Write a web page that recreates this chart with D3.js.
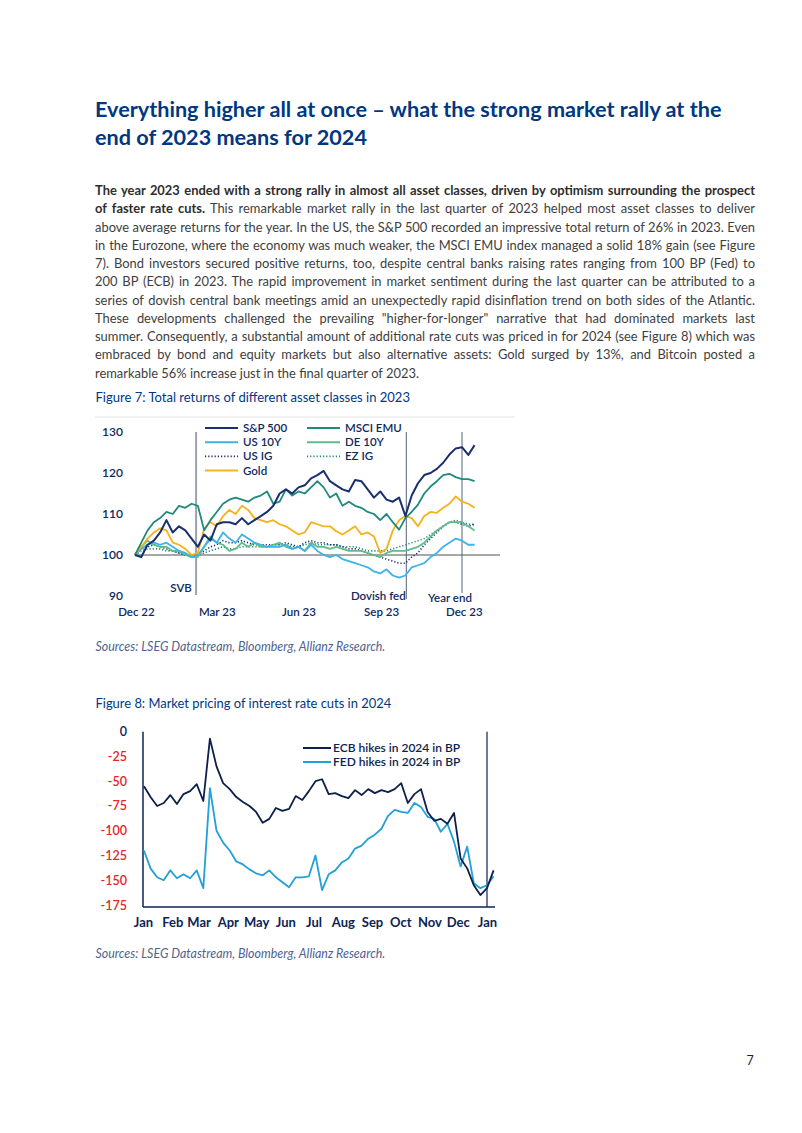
<!DOCTYPE html>
<html><head><meta charset="utf-8">
<script src="https://cdn.jsdelivr.net/npm/d3@7"></script>
<style>body{margin:0;background:#fff} svg{display:block} text{white-space:pre}</style>
</head><body>
<svg id="page" width="802" height="1133"></svg>
<script>
// ---------- TEXT ----------
const titleLines = ["Everything higher all at once \u2013 what the strong market rally at the", "end of 2023 means for 2024"];
const bodyLines = [
 ["The year 2023 ended with a strong rally in almost all asset classes, driven by optimism surrounding the prospect", ""],
 ["of faster rate cuts.", " This remarkable market rally in the last quarter of 2023 helped most asset classes to deliver"],
 ["", "above average returns for the year. In the US, the S&P 500 recorded an impressive total return of 26% in 2023. Even"],
 ["", "in the Eurozone, where the economy was much weaker, the MSCI EMU index managed a solid 18% gain (see Figure"],
 ["", "7). Bond investors secured positive returns, too, despite central banks raising rates ranging from 100 BP (Fed) to"],
 ["", "200 BP (ECB) in 2023. The rapid improvement in market sentiment during the last quarter can be attributed to a"],
 ["", "series of dovish central bank meetings amid an unexpectedly rapid disinflation trend on both sides of the Atlantic."],
 ["", "These developments challenged the prevailing \"higher-for-longer\" narrative that had dominated markets last"],
 ["", "summer. Consequently, a substantial amount of additional rate cuts was priced in for 2024 (see Figure 8) which was"],
 ["", "embraced by bond and equity markets but also alternative assets: Gold surged by 13%, and Bitcoin posted a"],
 ["", "remarkable 56% increase just in the final quarter of 2023."]
];
const fig7Caption = "Figure 7: Total returns of different asset classes in 2023";
const fig8Caption = "Figure 8: Market pricing of interest rate cuts in 2024";
const sourceText = "Sources: LSEG Datastream, Bloomberg, Allianz Research.";
const pageNumber = "7";

// ---------- FIGURE 7 DATA (weekly, from 30 Dec 2022) ----------
const f7Names = ["S&P 500","MSCI EMU","US 10Y","DE 10Y","US IG","EZ IG","Gold"];
const sp500 = [100,99.5,102.5,103.5,105.5,108.5,105.5,107,106,104,102,105,103.5,107.5,108,108,107.5,109,107.5,108.5,109.5,110.5,112,115,116,115,116.5,117,118.7,119.5,120.5,118,117,116,115.5,118.3,118,116,114,115.5,113.5,113,114,109.5,114.5,117.5,119.5,120,121,122.5,124.5,126,126.3,124.4,126.8];
const msciEmu = [100,103,106,108,109,110.5,110,112,111.5,112.5,112,106,108.5,110.5,112.5,113.5,114,113.5,113,114,114.5,115.5,112.5,113,116,114.5,115.5,115,116.5,118,116.5,114,115,112,113,112,111.5,110.5,110,108.5,110,108,106.2,109,110.5,112.3,115,116.7,118,119.5,119.8,119,118.5,118.5,118];
const us10y = [100,101.5,102.5,103,102.5,103,102,101,100.5,99.5,100,102,104,103,105.5,104,103,105,104,103,102.5,102,102,102,102.5,101.5,102,101,102.5,101,100,99.5,100,99,98.5,98,97.5,97,96,95.5,96.5,95,94.5,95,97,97.5,98,99.5,100.5,102,103,104,103.5,102.5,102.5];
const de10y = [100,102,103.5,102.5,102,102,101,101,100,99.5,99.5,102,104.5,103,102.5,101,101.5,103,102,103,102,102,102.5,103,102,101.5,102,101,103,102,102,101.5,102,101.5,101,101,101,100.5,100,99.5,100.5,101,101,101,101.5,102,103,104.5,106,107,108,108,108,107,106];
const usIG = [100,101.5,102,102.5,102,101.5,101,100.5,100,100,100,101,102,102.5,103.5,103,103,103.5,103,102.5,102.5,102.5,102.5,102.5,103,102.5,102,103,103.5,103,103,102.5,102.5,102,101.5,101.5,101,100.5,100,99.5,99,98.5,98,98,99.5,100.5,102.5,104,105.5,107,108,108,107.5,107,107.5];
const ezIG = [100,101,101.5,101.5,101.5,101,101,100.5,100,100,100,100.5,101,101.5,102,101.5,101.5,102,102,102,102,102,102.5,102.5,102.5,102,102,102.5,103,102.5,102.5,102.5,102.5,102,102,102,101.5,101,101,101,101,101.5,102,102.5,103,103.5,104,105,106,107,108,108.5,108,107.5,107.5];
const gold = [100,102,104,105.5,106.5,106,103,102.5,101.5,100,100.5,106.5,108,107,109.5,111,110,112,111,109,108.5,108,108.5,107.5,107,106,105,105.5,108,107.5,107,107,105.8,105,106,107,105,105.5,104.5,100.5,101.5,106,108.5,109.5,109,107,109.5,110.5,110.3,111.5,112.5,114.3,113,112.5,111.5];
const f7YTicks = [90,100,110,120,130];
const f7XTickDates = ["2022-12-31","2023-03-31","2023-06-30","2023-09-30","2023-12-31"];
const f7Events = [["SVB","2023-03-08"],["Dovish fed","2023-10-28"],["Year end","2023-12-29"]];

// ---------- FIGURE 8 DATA (weekly, from 2 Jan 2023) ----------
const f8Names = ["ECB hikes in 2024 in BP","FED hikes in 2024 in BP"];
const ecb = [-55,-66,-75,-72,-64,-73,-63,-60,-53,-70,-7,-35,-52,-58,-66,-71,-75,-81,-92,-88,-77,-80,-78,-65,-69,-60,-50,-48,-63,-62,-65,-67,-59,-64,-58,-62,-59,-61,-58,-52,-72,-63,-58,-81,-90,-88,-93,-82,-128,-138,-155,-165,-158,-140];
const fed = [-120,-138,-147,-150,-140,-148,-144,-148,-140,-158,-57,-100,-112,-120,-131,-134,-139,-143,-145,-140,-147,-152,-157,-147,-147,-146,-125,-160,-144,-140,-132,-128,-118,-115,-108,-104,-98,-85,-79,-81,-82,-72,-76,-86,-88,-101,-93,-111,-136,-116,-153,-158,-155,-146];
const f8YTicks = [0,-25,-50,-75,-100,-125,-150,-175];
const f8XTickLabels = ["Jan","Feb","Mar","Apr","May","Jun","Jul","Aug","Sep","Oct","Nov","Dec","Jan"];

// ---------- DRAW ----------
const svg = d3.select("#page");
const F = "Lato, 'Noto Sans', sans-serif";
const NAVY = "#003781";
const INK = "#0e2a5f";
const BODY = "#3e3e3e";
const SRC = "#50638f";

function fitSize(sel, target) {
  const w = sel.node().getComputedTextLength();
  return parseFloat(sel.attr("font-size")) * target / w;
}

// Title
const t1 = svg.append("text").attr("x",95).attr("y",116.5).attr("font-family",F)
  .attr("font-weight",700).attr("font-size",20).attr("fill",NAVY).text(titleLines[0]);
const tfs = fitSize(t1, 627); t1.attr("font-size", tfs);
svg.append("text").attr("x",95).attr("y",145).attr("font-family",F)
  .attr("font-weight",700).attr("font-size",tfs).attr("fill",NAVY).text(titleLines[1]);

// Body
const bodyW = 660;
const probe = svg.append("text").attr("font-family",F).attr("font-size",12).text(bodyLines[2][1]);
const bfs = fitSize(probe, 656); probe.remove();
bodyLines.forEach((ln, i) => {
  const t = svg.append("text").attr("x",95).attr("y",195 + i*18.25).attr("font-family",F)
    .attr("font-size",bfs).attr("fill",BODY);
  if (ln[0]) t.append("tspan").attr("font-weight",700).attr("fill","#2e2e2e").text(ln[0]);
  if (ln[1]) t.append("tspan").text(ln[1]);
  if (i < bodyLines.length - 1) {
    const full = ln[0] + ln[1];
    const spaces = (full.match(/ /g) || []).length;
    const w = t.node().getComputedTextLength();
    t.attr("word-spacing", (bodyW - w) / spaces);
  }
});

// Captions & sources
function caption(txt, y, w, opts) {
  const t = svg.append("text").attr("x",95.5).attr("y",y).attr("font-family",F)
    .attr("font-size",12).attr("fill",opts.fill).attr("font-style",opts.italic ? "italic" : null).text(txt);
  t.attr("font-size", fitSize(t, w));
}
caption(fig7Caption, 401.5, 315, {fill:NAVY});
caption(sourceText, 651, 290, {fill:SRC, italic:true});
caption(fig8Caption, 708, 296, {fill:NAVY});
caption(sourceText, 957.5, 290, {fill:SRC, italic:true});
svg.append("text").attr("x",750).attr("y",1064.5).attr("text-anchor","middle").attr("font-family",F)
  .attr("font-size",12.5).attr("fill","#222").text(pageNumber);

// ===== Figure 7 =====
svg.append("line").attr("x1",95).attr("x2",515).attr("y1",417).attr("y2",417).attr("stroke","#e3e3e3").attr("stroke-width",1);
const p = d3.timeParse("%Y-%m-%d");
const f7Start = new Date(2022,11,30);
const f7Dates = sp500.map((_, i) => d3.timeWeek.offset(f7Start, i));
const x7 = d3.scaleTime().domain([f7Start, new Date(2023,11,29)]).range([135, 462]);
const y7 = d3.scaleLinear().domain([90,130]).range([596, 432]);

const g7 = svg.append("g").attr("font-family",F);
const ya7 = g7.append("g").attr("transform","translate(123,0)")
  .call(d3.axisLeft(y7).tickValues(f7YTicks).tickSize(0).tickPadding(0));
ya7.select(".domain").remove();
ya7.selectAll("text").attr("font-size",12).attr("font-weight",600).attr("fill",INK).attr("font-family",F);
const xa7 = g7.append("g").attr("transform","translate(0,602)")
  .call(d3.axisBottom(x7).tickValues(f7XTickDates.map(p)).tickFormat(d3.timeFormat("%b %y")).tickSize(0).tickPadding(6));
xa7.select(".domain").remove();
xa7.selectAll("text").attr("font-size",11.5).attr("font-weight",600).attr("fill",INK).attr("font-family",F);

g7.append("line").attr("x1",x7(f7Start)).attr("x2",500).attr("y1",y7(100)).attr("y2",y7(100))
  .attr("stroke","#8a8a8a").attr("stroke-width",1.3);
const evStyle = [{c:"#9aa3ad",w:2,y2:595,ly:592},{c:"#56627a",w:1,y2:599,ly:600},{c:"#56627a",w:1,y2:593,ly:602}];
const evLabelX = [-15, -28, -12];
f7Events.forEach((e, i) => {
  const xx = x7(p(e[1]));
  g7.append("line").attr("x1",xx).attr("x2",xx).attr("y1",y7(130)).attr("y2",evStyle[i].y2)
    .attr("stroke",evStyle[i].c).attr("stroke-width",evStyle[i].w);
  g7.append("text").attr("x",xx + evLabelX[i]).attr("y",evStyle[i].ly).attr("text-anchor","middle")
    .attr("font-size",11.5).attr("font-weight",600).attr("fill",INK).text(e[0]);
});

const f7Series = [
  {name:"EZ IG", v:ezIG, c:"#1d8a7c", dash:"1.2,2", w:1.6},
  {name:"US IG", v:usIG, c:"#1d2f6b", dash:"1.2,2", w:1.6},
  {name:"DE 10Y", v:de10y, c:"#5fbd8a", w:1.8},
  {name:"US 10Y", v:us10y, c:"#3cb3ea", w:1.8},
  {name:"Gold", v:gold, c:"#f5b21c", w:1.8},
  {name:"MSCI EMU", v:msciEmu, c:"#1d8a7c", w:1.8},
  {name:"S&P 500", v:sp500, c:"#1a2f6e", w:2}
];
const line7 = d3.line().x((d,i) => x7(f7Dates[i])).y(d => y7(d));
f7Series.forEach(s => {
  g7.append("path").attr("d", line7(s.v)).attr("fill","none").attr("stroke",s.c)
    .attr("stroke-width",s.w).attr("stroke-dasharray",s.dash || null).attr("stroke-linejoin","round");
});
const legendOrder = [["S&P 500","US 10Y","US IG","Gold"],["MSCI EMU","DE 10Y","EZ IG"]];
const legX = [205, 307];
legendOrder.forEach((col, ci) => col.forEach((nm, ri) => {
  const s = f7Series.find(d => d.name === nm);
  const yy = 428 + ri * 14.2;
  g7.append("line").attr("x1",legX[ci]).attr("x2",legX[ci] + 33).attr("y1",yy).attr("y2",yy)
    .attr("stroke",s.c).attr("stroke-width",s.dash ? 1.6 : 2).attr("stroke-dasharray",s.dash || null);
  g7.append("text").attr("x",legX[ci] + 38).attr("y",yy + 4).attr("font-size",11.5).attr("font-weight",600)
    .attr("fill",INK).text(nm);
}));

// ===== Figure 8 =====
const f8Start = new Date(2023,0,2);
const f8Dates = ecb.map((_, i) => d3.timeWeek.offset(f8Start, i));
const x8 = d3.scaleTime().domain([new Date(2023,0,1), new Date(2024,0,1)]).range([143, 487]);
const y8 = d3.scaleLinear().domain([-177, 0]).range([907, 731.7]);
const g8 = svg.append("g").attr("font-family",F);
const AX8 = "#0d2453";
const ya8 = g8.append("g").attr("transform","translate(127,0)")
  .call(d3.axisLeft(y8).tickValues(f8YTicks).tickSize(0).tickPadding(0).tickFormat(d => String(d)));
ya8.select(".domain").remove();
ya8.selectAll("text").attr("font-size",12.5).attr("font-weight",600).attr("font-family",F)
  .attr("fill", d => d === 0 ? AX8 : "#e3262a");
const monthTicks = d3.timeMonth.range(new Date(2023,0,1), new Date(2024,0,2));
const xa8 = g8.append("g").attr("transform","translate(0,907)")
  .call(d3.axisBottom(x8).tickValues(monthTicks).tickFormat((d,i) => f8XTickLabels[i]).tickSize(0).tickPadding(11));
xa8.select(".domain").remove();
xa8.selectAll("text").attr("font-size",13).attr("font-weight",700).attr("fill",AX8).attr("font-family",F);
g8.append("line").attr("x1",143).attr("x2",143).attr("y1",y8(0)).attr("y2",y8(-177)).attr("stroke",AX8).attr("stroke-width",1.5);
g8.append("line").attr("x1",143).attr("x2",495).attr("y1",y8(-177)).attr("y2",y8(-177)).attr("stroke",AX8).attr("stroke-width",1.5);
g8.append("line").attr("x1",x8(new Date(2024,0,1))).attr("x2",x8(new Date(2024,0,1))).attr("y1",y8(0)).attr("y2",y8(-177)).attr("stroke",AX8).attr("stroke-width",1.2);

const f8Series = [
  {name:f8Names[1], v:fed, c:"#22a0d8"},
  {name:f8Names[0], v:ecb, c:"#0d1f4b"}
];
const line8 = d3.line().x((d,i) => x8(f8Dates[i])).y(d => y8(d));
f8Series.forEach(s => {
  g8.append("path").attr("d", line8(s.v)).attr("fill","none").attr("stroke",s.c)
    .attr("stroke-width",1.8).attr("stroke-linejoin","round");
});
[f8Series[1], f8Series[0]].forEach((s, i) => {
  const yy = 748 + i * 14;
  g8.append("line").attr("x1",303).attr("x2",331).attr("y1",yy).attr("y2",yy).attr("stroke",s.c).attr("stroke-width",2);
  g8.append("text").attr("x",333).attr("y",yy + 4.2).attr("font-size",12).attr("font-weight",600)
    .attr("fill",AX8).text(s.name);
});
</script>
</body></html>
